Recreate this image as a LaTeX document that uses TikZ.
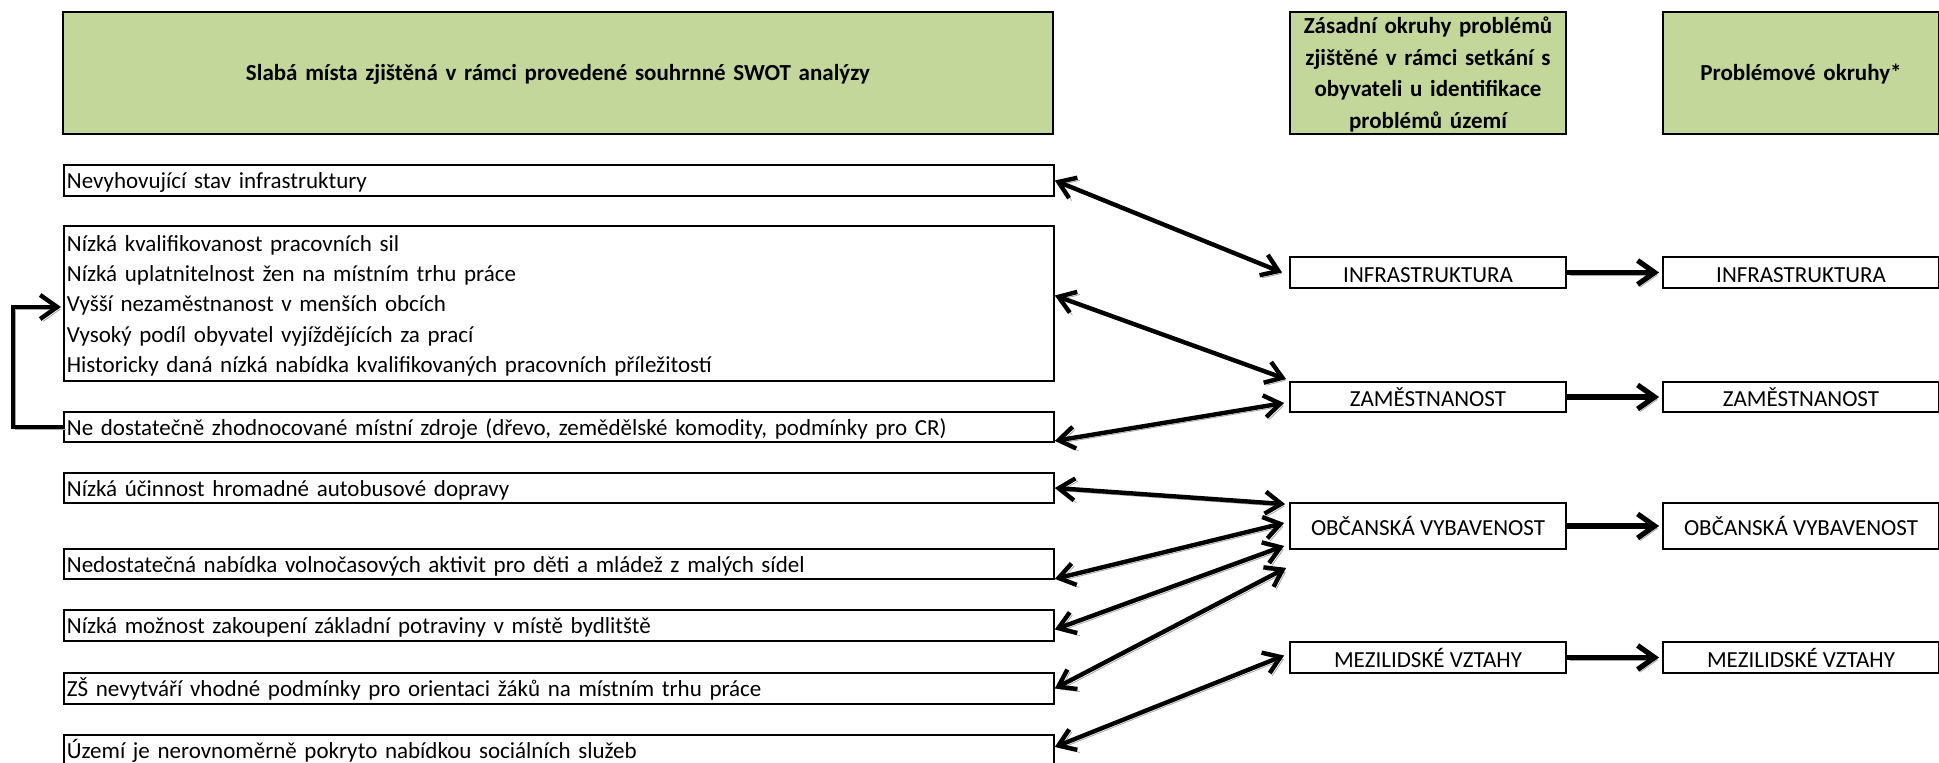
\documentclass[tikz,border=0pt]{standalone}
\usepackage{fontspec}
\setmainfont{Carlito}
\usepackage{tikz}
\usetikzlibrary{arrows.meta, positioning}
\definecolor{swotgreen}{RGB}{196,215,155}
\definecolor{shadowgray}{RGB}{165,165,165}
\tikzset{
  %% ---- boxes ----
  head/.style   = {rectangle, draw=black, line width=1.1pt, fill=swotgreen,
                   minimum width=#1, text width=#1, minimum height=61pt, inner sep=0pt,
                   execute at begin node={\rule{0pt}{10.9pt}},
                   execute at end node={\rule[-2.9pt]{0pt}{2.9pt}},
                   align=center, font=\fontsize{11.5}{15.7}\selectfont\bfseries},
  head/.default = 138pt,
  weak/.style   = {rectangle, draw=black, line width=0.9pt, anchor=west,
                   text width=492pt, inner xsep=1.5pt, inner ysep=0pt,
                   minimum height=#1, align=left,
                   execute at begin node={\rule{0pt}{11.5pt}},
                   execute at end node={\rule[-3pt]{0pt}{3pt}},
                   font=\fontsize{11.5}{15.2}\selectfont},
  weak/.default = 15pt,
  topic/.style  = {rectangle, draw=black, line width=0.9pt,
                   minimum width=138pt, minimum height=#1, inner sep=0pt,
                   text height=9.6pt, text depth=0pt,
                   align=center, font=\fontsize{11.5}{14}\selectfont},
  topic/.default = 15.5pt,
  %% ---- arrows ----
  dropshadow/.style = {preaction={draw=shadowgray,
                   transform canvas={shift={(1.3pt,-1.3pt)}}}},
  biarr/.style  = {{Straight Barb[length=8pt,width=11pt]}-{Straight Barb[length=8pt,width=11pt]},
                   line width=2.2pt, dropshadow},
  arr/.style    = {-{Straight Barb[length=8.5pt,width=12pt]}, line width=2.6pt, dropshadow},
}

\begin{document}
\begin{tikzpicture}[x=0.5pt, y=-0.5pt]

\useasboundingbox (0,0) rectangle (1939,763);
\clip (0,0) rectangle (1939,763);

% Column headers
\node[head=495pt] (hweak) at (558,73)
  {Slabá místa zjištěná v rámci provedené souhrnné SWOT analýzy};
\node[head] (hmid) at (1428,73)
  {Zásadní okruhy problémů\\zjištěné v rámci setkání s\\obyvateli u identifikace\\problémů území};
\node[head] (hout) at (1801,73) {Problémové okruhy*};

% Weak points (left column)
\node[weak=15.5pt] (wA) at (63,180.5) {Nevyhovující stav infrastruktury};
\node[weak=77.5pt] (wB) at (63,303.5)
  {Nízká kvalifikovanost pracovních sil\\
   Nízká uplatnitelnost žen na místním trhu práce\\
   Vyšší nezaměstnanost v menších obcích\\
   Vysoký podíl obyvatel vyjíždějících za prací\\
   Historicky daná nízká nabídka kvalifikovaných pracovních příležitostí};
\node[weak] (wC) at (63,427)
  {Ne dostatečně zhodnocované místní zdroje (dřevo, zemědělské komodity, podmínky pro CR)};
\node[weak] (wD) at (63,488) {Nízká účinnost hromadné autobusové dopravy};
\node[weak] (wE) at (63,564)
  {Nedostatečná nabídka volnočasových aktivit pro děti a mládež z malých sídel};
\node[weak=15.5pt] (wF) at (63,625.5)
  {Nízká možnost zakoupení základní potraviny v místě bydlitště};
\node[weak=15.5pt] (wG) at (63,688.5)
  {ZŠ nevytváří vhodné podmínky pro orientaci žáků na místním trhu práce};
\node[weak] (wH) at (63,750)
  {Území je nerovnoměrně pokryto nabídkou sociálních služeb};

% Problem areas from the meetings (middle column)
\node[topic] (midinfra) at (1428,272.5) {INFRASTRUKTURA};
\node[topic=15pt] (midzam) at (1428,397) {ZAMĚSTNANOST};
\node[topic=23pt] (midobc) at (1428,526) {OBČANSKÁ VYBAVENOST};
\node[topic] (midmez) at (1428,657.5) {MEZILIDSKÉ VZTAHY};

% Problem areas (right column)
\node[topic] (outinfra) at (1801,272.5) {INFRASTRUKTURA};
\node[topic=15pt] (outzam) at (1801,397) {ZAMĚSTNANOST};
\node[topic=23pt] (outobc) at (1801,526) {OBČANSKÁ VYBAVENOST};
\node[topic] (outmez) at (1801,657.5) {MEZILIDSKÉ VZTAHY};

% Links weak points <-> problem areas
\draw[biarr] (wA.east) -- ([xshift=-3.5pt]midinfra.west);
\draw[biarr] ([yshift=4pt]wB.east) -- ([xshift=-1.5pt,yshift=1pt]midzam.north west);
\draw[biarr] ([yshift=1pt]wC.south east) -- ([xshift=-2.5pt,yshift=-3pt]midzam.west);
\draw[biarr] (wD.east) -- ([xshift=-2pt,yshift=-1pt]midobc.north west);
\draw[biarr] ([yshift=0.5pt]wE.south east) -- ([xshift=-2.5pt,yshift=1.5pt]midobc.west);
\draw[biarr] ([yshift=-2pt]wF.east) -- ([xshift=-2.5pt,yshift=2pt]midobc.south west);
\draw[biarr] (wG.east) -- ([xshift=-1.5pt,yshift=-9pt]midobc.south west);
\draw[biarr] ([yshift=1.5pt]wH.east) -- ([xshift=-2.5pt,yshift=1pt]midmez.west);

% Middle -> right
\foreach \t in {infra,zam,obc,mez}
  \draw[arr] (mid\t.east) -- ([xshift=-1.5pt]out\t.west);

% Local resources feed back into employment
\draw[arr, line width=2.2pt] (wC.west) -- ++(-25pt,0) |- ([xshift=-1pt,yshift=-1.75pt]wB.west);

\end{tikzpicture}
\end{document}
